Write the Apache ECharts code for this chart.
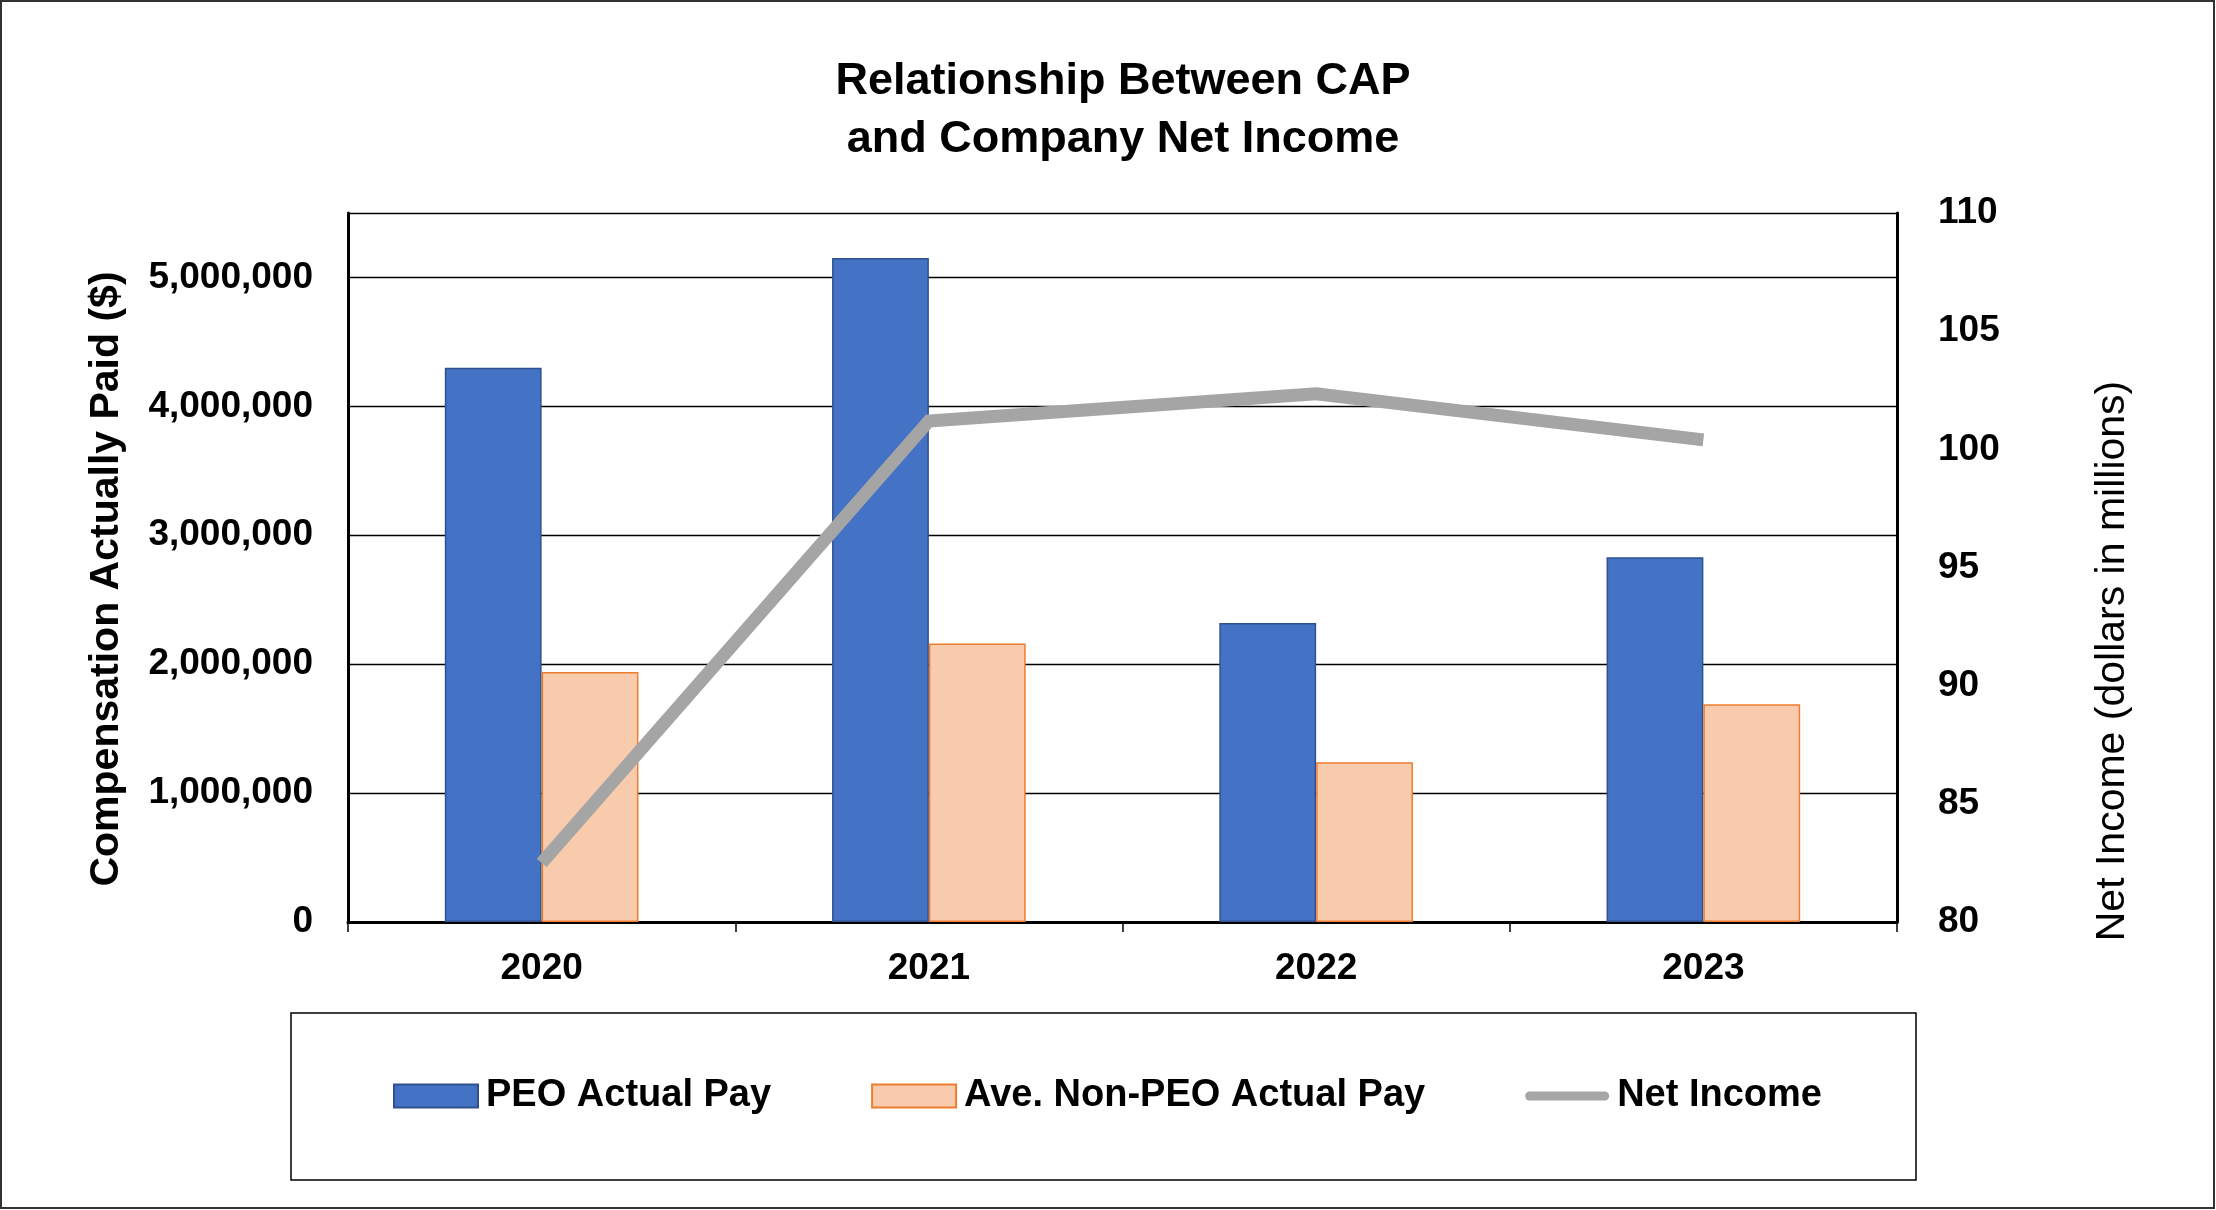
<!DOCTYPE html>
<html>
<head>
<meta charset="utf-8">
<script src="https://cdn.jsdelivr.net/npm/echarts@6/dist/echarts.min.js"></script>
<style>
html,body{margin:0;padding:0;background:#fff;}
#chart{width:2216px;height:1210px;}
</style>
</head>
<body>
<div id="chart"></div>
<script>
const categories = ['2020', '2021', '2022', '2023'];
const peoActualPay = [4300000, 5150000, 2320000, 2830000];
const nonPeoActualPay = [1940000, 2160000, 1240000, 1690000];
const netIncome = [82.5, 101.2, 102.35, 100.4];
const leftTicks = {min: 0, max: 5500000, interval: 1000000};
const rightTicks = {min: 80, max: 110, interval: 5};

const FONT = "'Liberation Sans', Arial, sans-serif";
const chart = echarts.init(document.getElementById('chart'), null, {renderer: 'canvas'});

const lineIcon = 'path://M0,0 M84,23 M4.5,7 L79.5,7 A4.5,4.5 0 0 1 79.5,16 L4.5,16 A4.5,4.5 0 0 1 4.5,7 Z';

chart.setOption({
  backgroundColor: '#fff',
  animation: false,
  grid: {left: 348, right: 319, top: 213, bottom: 288, containLabel: false},
  xAxis: {
    type: 'category',
    data: categories,
    axisLine: {show: true, lineStyle: {color: '#000', width: 3}},
    axisTick: {show: true, length: 10, lineStyle: {color: '#000', width: 1.5}},
    axisLabel: {color: '#000', fontFamily: FONT, fontWeight: 'bold', fontSize: 37, margin: 28},
    splitLine: {show: false}
  },
  yAxis: [
    {
      type: 'value',
      min: leftTicks.min, max: leftTicks.max, interval: leftTicks.interval,
      axisLine: {show: true, lineStyle: {color: '#000', width: 3}},
      axisTick: {show: false},
      axisLabel: {
        color: '#000', fontFamily: FONT, fontWeight: 'bold', fontSize: 37, margin: 35,
        formatter: v => (v > 5000000 ? '' : v.toLocaleString('en-US'))
      },
      splitLine: {show: true, lineStyle: {color: '#000', width: 1.3}}
    },
    {
      type: 'value',
      position: 'right',
      min: rightTicks.min, max: rightTicks.max, interval: rightTicks.interval,
      axisLine: {show: true, lineStyle: {color: '#000', width: 3}},
      axisTick: {show: false},
      axisLabel: {color: '#000', fontFamily: FONT, fontWeight: 'bold', fontSize: 37, margin: 41},
      splitLine: {show: false}
    }
  ],
  legend: {
    left: 388,
    top: 1072,
    orient: 'horizontal',
    itemWidth: 84,
    itemHeight: 23,
    itemGap: 100,
    selectedMode: false,
    textStyle: {color: '#000', fontFamily: FONT, fontWeight: 'bold', fontSize: 38, padding: [0, 0, 0, 3]},
    data: [
      {name: 'PEO Actual Pay', icon: 'rect'},
      {name: 'Ave. Non-PEO Actual Pay', icon: 'rect'},
      {name: 'Net Income', icon: lineIcon, itemStyle: {color: '#A5A5A5', borderWidth: 0}}
    ]
  },
  series: [
    {
      name: 'PEO Actual Pay',
      type: 'bar',
      data: peoActualPay,
      barWidth: '25%',
      barGap: '0%',
      itemStyle: {color: '#4472C4', borderColor: '#2F528F', borderWidth: 1.5}
    },
    {
      name: 'Ave. Non-PEO Actual Pay',
      type: 'bar',
      data: nonPeoActualPay,
      barWidth: '25%',
      barGap: '0%',
      itemStyle: {color: '#F8CBAD', borderColor: '#ED7D31', borderWidth: 1.5}
    },
    {
      name: 'Net Income',
      type: 'line',
      yAxisIndex: 1,
      data: netIncome,
      symbol: 'none',
      z: 5,
      lineStyle: {color: '#A5A5A5', width: 13, join: 'miter'},
      itemStyle: {color: '#A5A5A5'}
    }
  ],
  graphic: [
    {type: 'rect', z: -1, shape: {x: 1, y: 1, width: 2213, height: 1207}, style: {fill: 'none', stroke: '#333', lineWidth: 2}},
    {type: 'rect', z: -1, shape: {x: 291, y: 1013, width: 1625, height: 167}, style: {fill: 'none', stroke: '#000', lineWidth: 1.5}},
    {type: 'text', x: 1123, y: 82, style: {text: 'Relationship Between CAP', font: "bold 45px 'Liberation Sans', Arial, sans-serif", fill: '#000', textAlign: 'center', textVerticalAlign: 'middle'}},
    {type: 'text', x: 1123, y: 140, style: {text: 'and Company Net Income', font: "bold 45px 'Liberation Sans', Arial, sans-serif", fill: '#000', textAlign: 'center', textVerticalAlign: 'middle'}},
    {type: 'text', x: 107, y: 579, rotation: Math.PI / 2, style: {text: 'Compensation Actually Paid ($)', font: "bold 41px 'Liberation Sans', Arial, sans-serif", fill: '#000', textAlign: 'center', textVerticalAlign: 'middle'}},
    {type: 'text', x: 2113, y: 661, rotation: Math.PI / 2, style: {text: 'Net Income (dollars in millions)', font: "41px 'Liberation Sans', Arial, sans-serif", fill: '#000', textAlign: 'center', textVerticalAlign: 'middle'}}
  ]
});
</script>
</body>
</html>
